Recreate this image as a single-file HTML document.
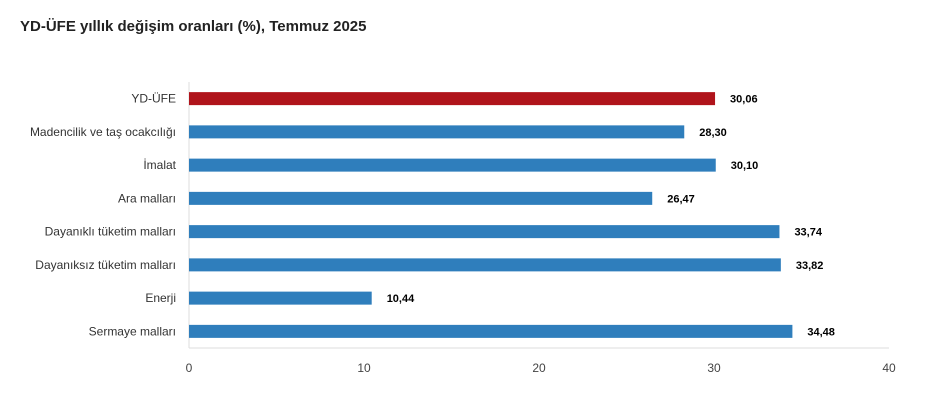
<!DOCTYPE html>
<html><head><meta charset="utf-8"><style>
body{margin:0;background:#fff;font-family:"Liberation Sans",sans-serif}
#t{position:absolute;left:20px;top:18px;font-size:15px;font-weight:bold;color:#222}
</style></head><body>
<div id="t">YD-ÜFE yıllık değişim oranları (%), Temmuz 2025</div>
<svg id="c" width="931" height="409" style="position:absolute;left:0;top:0"></svg>
<script>
const categories=["YD-ÜFE","Madencilik ve taş ocakcılığı","İmalat","Ara malları","Dayanıklı tüketim malları","Dayanıksız tüketim malları","Enerji","Sermaye malları"];
const values=[30.06,28.30,30.10,26.47,33.74,33.82,10.44,34.48];
const labels=["30,06","28,30","30,10","26,47","33,74","33,82","10,44","34,48"];
const ticks=[0,10,20,30,40];
const svg=document.getElementById('c'),NS="http://www.w3.org/2000/svg";
const x0=189,x1=889,y0=82,y1=348;
const xs=v=>x0+(v-0)/(40-0)*(x1-x0);
const band=(y1-y0)/categories.length;
const yc=i=>y0+band*(i+0.5);
function mk(t,a,txt){const e=document.createElementNS(NS,t);for(const k in a)e.setAttribute(k,a[k]);if(txt!=null)e.textContent=txt;svg.appendChild(e);return e;}
let l=mk('line',{x1:x0,x2:x0,y1:y0,y2:y1,stroke:'#ddd'});


l=mk('line',{x1:x0,x2:x1,y1:y1,y2:y1,stroke:'#ddd'});


ticks.forEach(t=>{const e=mk('text',{x:xs(t),y:372,'text-anchor':'middle','font-size':12,fill:'#444'},String(t));

});
categories.forEach((c,i)=>{const y=yc(i);
const e=mk('text',{x:176,y:y+4,'text-anchor':'end','font-size':12,fill:'#333'},c);


const b=mk('rect',{x:x0,y:y-6.5,width:xs(values[i])-x0,height:13,fill:i==0?'#b0141b':'#2f7ebc'});


const v=mk('text',{x:xs(values[i])+15,y:y+4,'font-size':11,'font-weight':'bold',fill:'#000'},labels[i]);

});
</script>
</body></html>
